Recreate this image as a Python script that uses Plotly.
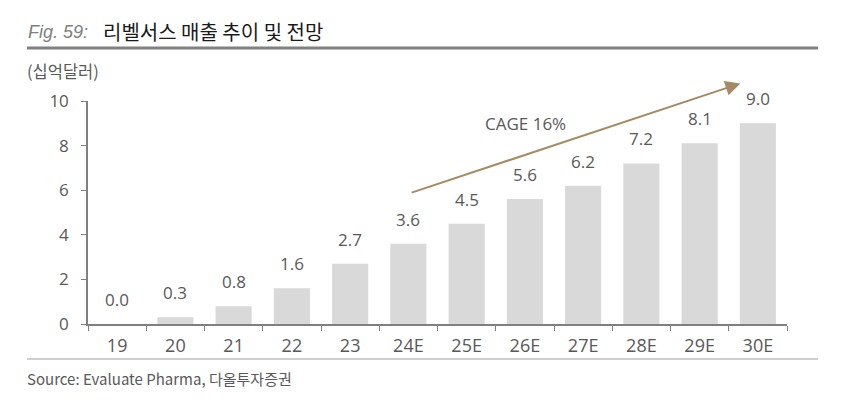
import plotly.graph_objects as go

years = ["19", "20", "21", "22", "23", "24E", "25E", "26E", "27E", "28E", "29E", "30E"]
sales = [0.0, 0.3, 0.8, 1.6, 2.7, 3.6, 4.5, 5.6, 6.2, 7.2, 8.1, 9.0]
y_ticks = [0, 2, 4, 6, 8, 10]

# page has an 8px body margin, so the figure is drawn from (8, 8)
OFF = 8
W, H = 840, 386
L, R, T, B = 80, 61, 93, 70
GRAY_TXT = "#595959"
KFONT = "Noto Sans CJK KR, Noto Sans, sans-serif"
NFONT = "Open Sans, sans-serif"


def px(x):
    # page pixel -> paper x
    return (x - OFF - L) / (W - L - R)


def py(y):
    # page pixel -> paper y
    return (H - B - (y - OFF)) / (H - T - B)


fig = go.Figure()
fig.add_trace(go.Bar(
    x=years, y=sales,
    marker=dict(color="#D9D9D9", line=dict(width=0)),
))

# value labels above bars (x as category index, "19" would be read as a position)
for i, v in enumerate(sales):
    fig.add_annotation(
        x=i, y=v, xref="x", yref="y", text=f"{v:.1f}", showarrow=False,
        yanchor="bottom", yshift=11,
        font=dict(size=17, color=GRAY_TXT, family=NFONT),
    )

fig.update_layout(
    width=W, height=H,
    margin=dict(l=L, r=R, t=T, b=B),
    plot_bgcolor="white", paper_bgcolor="white",
    showlegend=False,
    bargap=0.38,
    font=dict(family=KFONT, color=GRAY_TXT),
    xaxis=dict(
        type="category", range=[-0.5, len(years) - 0.5],
        showline=True, linecolor="#808080", linewidth=1.5,
        ticks="outside", tickson="boundaries", ticklen=5, tickcolor="#808080",
        tickfont=dict(size=18, color=GRAY_TXT, family=NFONT), tickangle=0,
        ticklabelstandoff=5,
        showgrid=False, zeroline=False,
    ),
    yaxis=dict(
        range=[0, 10], tickvals=y_ticks, showline=True, linecolor="#808080",
        linewidth=1.5, ticks="outside", ticklen=5, tickcolor="#808080",
        tickfont=dict(size=17, color=GRAY_TXT, family=NFONT),
        ticklabelstandoff=9,
        showgrid=False, zeroline=False,
    ),
)

# growth arrow
fig.add_annotation(
    x=10.7, y=10.79, ax=5.03, ay=5.87,
    xref="x", yref="y", axref="x", ayref="y",
    text="", showarrow=True, arrowhead=2, arrowsize=1.5, arrowwidth=2,
    arrowcolor="#A68A64",
)
fig.add_annotation(
    x=px(525), y=py(110), xref="paper", yref="paper", text="CAGE 16%", showarrow=False,
    font=dict(size=17, color=GRAY_TXT, family=NFONT),
)

# header / footer
fig.add_annotation(
    x=px(26), y=py(32), xref="paper", yref="paper", xanchor="left",
    yanchor="middle", showarrow=False,
    text="<i>Fig. 59:</i>", font=dict(size=18, color="#7F7F7F", family="Liberation Sans, Arial"),
)
fig.add_annotation(
    x=px(101), y=py(31), xref="paper", yref="paper", xanchor="left",
    yanchor="middle", showarrow=False,
    text="리벨서스 매출 추이 및 전망", font=dict(size=20, color="#1a1a1a", family=KFONT),
)
fig.add_annotation(
    x=px(25), y=py(71), xref="paper", yref="paper", xanchor="left",
    yanchor="middle", showarrow=False,
    text="(십억달러)", font=dict(size=16.5, color=GRAY_TXT, family=KFONT),
)
fig.add_annotation(
    x=px(25), y=py(378), xref="paper", yref="paper", xanchor="left",
    yanchor="middle", showarrow=False,
    text="Source: Evaluate Pharma, 다올투자증권", font=dict(size=15, color=GRAY_TXT, family=KFONT),
)
fig.add_shape(type="line", xref="paper", yref="paper",
              x0=px(27), x1=px(818), y0=py(48), y1=py(48),
              line=dict(color="#808080", width=3))
fig.add_shape(type="line", xref="paper", yref="paper",
              x0=px(27), x1=px(818), y0=py(359), y1=py(359),
              line=dict(color="#BFBFBF", width=1.5))

fig.write_html("out.html")
